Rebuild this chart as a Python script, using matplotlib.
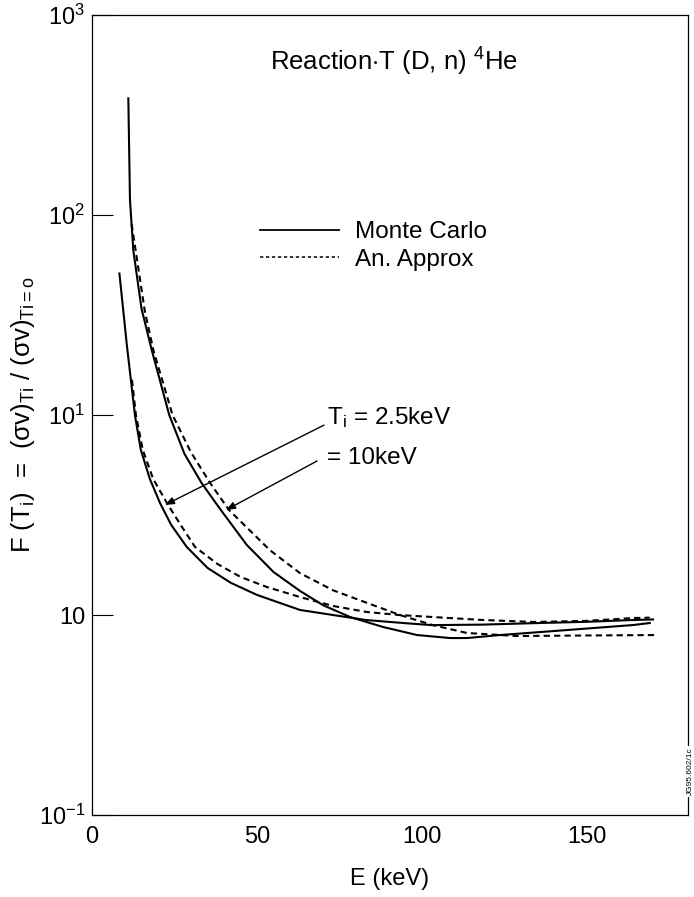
import numpy as np
import matplotlib
matplotlib.use("Agg")
import matplotlib.pyplot as plt
from matplotlib.lines import Line2D

plt.rcParams["font.family"] = ["Liberation Sans", "DejaVu Sans"]
plt.rcParams["mathtext.fontset"] = "custom"
plt.rcParams["mathtext.rm"] = "Liberation Sans"
plt.rcParams["mathtext.it"] = "Liberation Sans"
plt.rcParams["mathtext.sf"] = "Liberation Sans"
plt.rcParams["lines.scale_dashes"] = False

# ---------------------------------------------------------------------------
# F(Ti) curves, T(D,n)4He - Monte Carlo vs analytic approximation
# ---------------------------------------------------------------------------
# Ti = 2.5 keV
mc_25_E = [8.3, 10.6, 13.0, 14.8, 17.5, 20.6, 24.0, 28.7, 35.0, 42.0, 50.0,
           63.0, 73.0, 83.0, 95.0, 103.0, 118.0, 133.6, 150.0, 164.0, 170.0]
mc_25_F = [51.0, 22.0, 10.0, 6.68, 4.8, 3.63, 2.82, 2.19, 1.72, 1.45, 1.26,
           1.06, 1.0, 0.944, 0.91, 0.89, 0.895, 0.91, 0.925, 0.944, 0.95]

an_25_E = [12.1, 13.3, 15.4, 18.5, 22.7, 26.5, 31.2, 38.0, 45.0, 53.0,
           63.0, 73.0, 83.3, 93.0, 103.3, 118.0, 133.6, 150.0, 164.0, 169.0]
an_25_F = [15.0, 10.0, 6.68, 4.8, 3.63, 2.88, 2.19, 1.8, 1.55, 1.38,
           1.23, 1.11, 1.035, 1.0, 0.977, 0.945, 0.923, 0.935, 0.966, 0.97]

# Ti = 10 keV
mc_10_E = [11.0, 11.5, 12.5, 15.0, 18.1, 23.4, 28.0, 33.2, 38.8, 46.9, 55.0,
           63.0, 70.0, 78.2, 88.2, 98.5, 108.5, 113.6, 123.6, 143.9, 164.0, 169.0]
mc_10_F = [383.0, 119.0, 66.8, 34.0, 21.1, 10.0, 6.4, 4.57, 3.39, 2.24, 1.64,
           1.32, 1.12, 0.977, 0.871, 0.794, 0.767, 0.767, 0.794, 0.841, 0.891, 0.912]

an_10_E = [12.0, 13.5, 16.0, 18.6, 24.4, 30.0, 35.8, 41.5, 53.9, 63.0,
           73.0, 83.3, 93.3, 103.3, 113.6, 128.8, 150.0, 171.2]
an_10_F = [90.0, 62.0, 33.0, 21.1, 10.0, 6.5, 4.57, 3.35, 2.11, 1.62,
           1.33, 1.15, 1.0, 0.89, 0.813, 0.785, 0.79, 0.794]

y_ticks = [0.1, 1.0, 10.0, 100.0, 1000.0]
y_tick_labels = [r"10$^{-1}$", "10", r"10$^1$", r"10$^2$", r"10$^3$"]
x_ticks = [0, 50, 100, 150]

SOLID = dict(color="black", linewidth=1.5)
DASHED = dict(color="black", linewidth=1.5, linestyle=(0, (4.5, 3.0)))

fig = plt.figure(figsize=(6.94, 8.97), dpi=100)
ax = fig.add_axes([0.1326, 0.0914, 0.8588, 0.8919])

ax.plot(mc_25_E, mc_25_F, **SOLID)
ax.plot(an_25_E, an_25_F, **DASHED)
ax.plot(mc_10_E, mc_10_F, **SOLID)
ax.plot(an_10_E, an_10_F, **DASHED)

ax.set_yscale("log")
ax.set_ylim(0.1, 1000)
ax.set_xlim(0, 180.6)
ax.set_yticks(y_ticks, y_tick_labels)
ax.yaxis.set_minor_locator(matplotlib.ticker.NullLocator())
ax.set_xticks(x_ticks, [str(t) for t in x_ticks])

ax.tick_params(axis="y", direction="in", length=15, width=0.8,
               labelsize=17, pad=5, right=False)
ax.tick_params(axis="x", length=0, labelsize=17, pad=8)
for s in ax.spines.values():
    s.set_linewidth(0.9)

ax.set_xlabel("E (keV)", fontsize=17, labelpad=14)
ax.set_ylabel(r"F (T$_\mathregular{i}$)  =  ($\sigma$v)$_\mathregular{Ti}$ / "
              r"($\sigma$v)$_\mathregular{Ti = o}$", fontsize=18.5)
ax.yaxis.set_label_coords(-0.093, 0.5)

ax.text(0.507, 0.941, r"Reaction$\cdot$T (D, n) $^4$He", transform=ax.transAxes,
        ha="center", va="center", fontsize=18.5)

# legend drawn with its own handles so the dashes stay short
handles = [Line2D([], [], color="black", linewidth=1.3),
           Line2D([], [], color="black", linewidth=1.1, linestyle=(0, (2.4, 1.9)))]
ax.legend(handles, ["Monte Carlo", "An. Approx"], loc="upper left",
          bbox_to_anchor=(0.282, 0.742), frameon=False, fontsize=17.5,
          handlelength=3.25, handletextpad=0.66, labelspacing=0.22,
          borderpad=0, borderaxespad=0)

# Ti labels with arrows pointing at each pair of curves
arrow = dict(arrowstyle="-|>,head_length=0.55,head_width=0.22",
             color="black", linewidth=1.0, shrinkA=0, shrinkB=0)
ax.annotate("", xy=(22.1, 3.55), xytext=(70.3, 8.9), arrowprops=arrow)
ax.annotate("", xy=(40.6, 3.35), xytext=(68.2, 5.89), arrowprops=arrow)
ax.text(71.2, 9.66, r"T$_\mathregular{i}$ = 2.5keV", ha="left", va="center",
        fontsize=17.5)
ax.text(71.2, 6.1, "= 10keV", ha="left", va="center", fontsize=17.5)

fig.text(0.995, 0.14, "JG95.602/1c", rotation=90, ha="center", va="center",
         fontsize=6, bbox=dict(facecolor="white", edgecolor="none", pad=1))

fig.savefig("out.png", dpi=100)
